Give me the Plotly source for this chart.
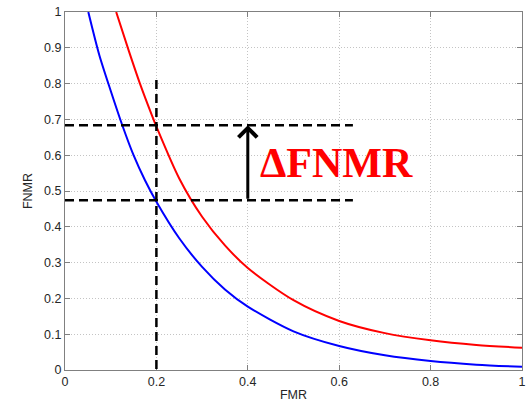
import plotly.graph_objects as go

# FMR / FNMR curves
blue_fmr = [0.051, 0.075, 0.1, 0.125, 0.15, 0.175, 0.2, 0.25, 0.3, 0.35, 0.4, 0.5, 0.6, 0.7, 0.8, 0.9, 1.0]
blue_fnmr = [1.0, 0.88, 0.78, 0.685, 0.6, 0.53, 0.47, 0.368, 0.288, 0.225, 0.177, 0.108, 0.067, 0.041, 0.025, 0.015, 0.009]
red_fmr = [0.112, 0.14, 0.164, 0.19, 0.2, 0.25, 0.3, 0.35, 0.4, 0.5, 0.6, 0.7, 0.8, 0.9, 1.0]
red_fnmr = [1.0, 0.89, 0.8, 0.712, 0.68, 0.535, 0.428, 0.348, 0.285, 0.195, 0.137, 0.103, 0.083, 0.07, 0.062]

# guide lines
fmr_op = 0.2
fnmr_low = 0.474
fnmr_high = 0.684
hline_end = 0.63
vline_top = 0.81
arrow_x = 0.4
label_text = "ΔFNMR"

x_ticks = [0, 0.2, 0.4, 0.6, 0.8, 1]
x_labels = ["0", "0.2", "0.4", "0.6", "0.8", "1"]
y_ticks = [0, 0.1, 0.2, 0.3, 0.4, 0.5, 0.6, 0.7, 0.8, 0.9, 1]
y_labels = ["0", "0.1", "0.2", "0.3", "0.4", "0.5", "0.6", "0.7", "0.8", "0.9", "1"]

fig = go.Figure()
fig.add_trace(go.Scatter(x=blue_fmr, y=blue_fnmr, mode="lines",
                         line=dict(color="#0000FF", width=2, shape="spline", smoothing=0.8),
                         showlegend=False, hoverinfo="skip"))
fig.add_trace(go.Scatter(x=red_fmr, y=red_fnmr, mode="lines",
                         line=dict(color="#FF0000", width=2, shape="spline", smoothing=0.8),
                         showlegend=False, hoverinfo="skip"))

dash_line = dict(color="black", width=2.5, dash="9px,5px")
fig.add_shape(type="line", x0=0, x1=hline_end, y0=fnmr_high, y1=fnmr_high, line=dash_line)
fig.add_shape(type="line", x0=0, x1=hline_end, y0=fnmr_low, y1=fnmr_low, line=dash_line)
fig.add_shape(type="line", x0=fmr_op, x1=fmr_op, y0=vline_top, y1=0, line=dash_line)

fig.add_annotation(x=arrow_x, y=fnmr_high, ax=arrow_x, ay=fnmr_low,
                   xref="x", yref="y", axref="x", ayref="y",
                   showarrow=True, arrowhead=4, arrowsize=1.2, arrowwidth=3,
                   arrowcolor="black", text="")
fig.add_annotation(x=0.422, y=0.578, xref="x", yref="y", text=label_text,
                   showarrow=False, xanchor="left", yanchor="middle",
                   font=dict(family="Liberation Serif", size=42, color="#FF0000", weight="bold"))

axis_common = dict(
    showline=True, linecolor="#808080", linewidth=1, mirror="ticks",
    ticks="inside", ticklen=5, tickcolor="#808080",
    showgrid=True, gridcolor="#c4c4c4", griddash="1px,2px", gridwidth=1,
    zeroline=False, automargin=False, ticklabeloverflow="allow",
    tickfont=dict(family="Liberation Sans", size=12.5, color="#262626"),
)
fig.update_xaxes(range=[0, 1], tickvals=x_ticks, ticktext=x_labels,
                 title=dict(text="FMR", standoff=2,
                            font=dict(family="Liberation Sans", size=12.5, color="#262626")),
                 **axis_common)
fig.update_yaxes(range=[0, 1], tickvals=y_ticks, ticktext=y_labels,
                 title=dict(text="FNMR", standoff=8,
                            font=dict(family="Liberation Sans", size=12.5, color="#262626")),
                 **axis_common)

fig.update_layout(
    width=531, height=405,
    margin=dict(l=65, r=9, t=12, b=35),
    paper_bgcolor="white", plot_bgcolor="white",
    hovermode=False,
)

fig.write_html("out.html", config={"displayModeBar": False, "staticPlot": True},
               post_script="document.body.style.margin='0';document.body.style.overflow='hidden';")
